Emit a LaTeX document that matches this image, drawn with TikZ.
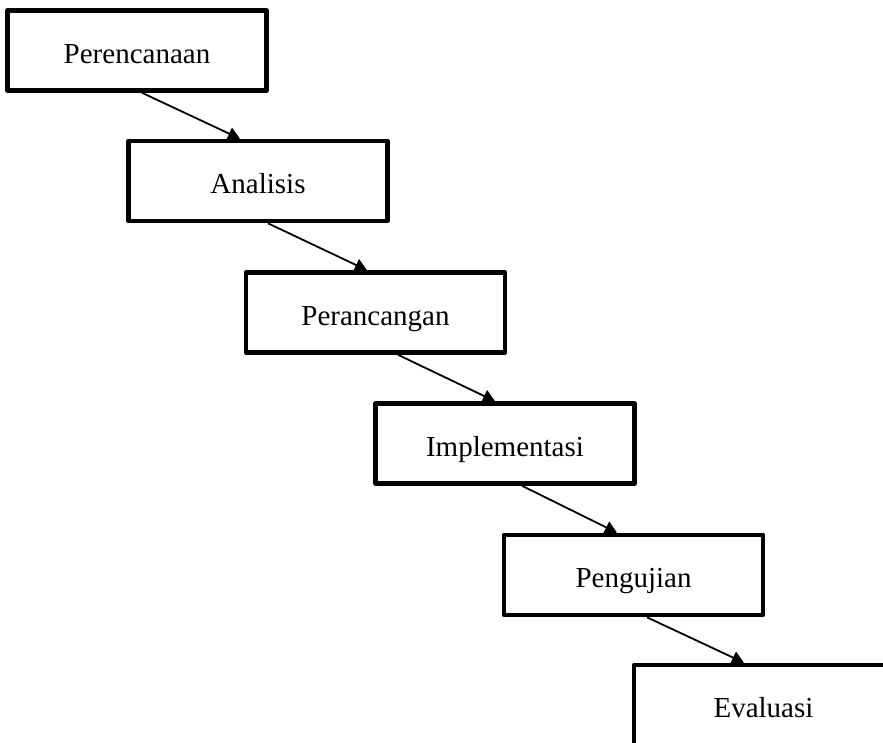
\documentclass[tikz,border=0pt]{standalone}
\usepackage{fontspec}
\setmainfont{Liberation Serif}
\usetikzlibrary{arrows.meta}
\begin{document}
\begin{tikzpicture}[x=1pt,y=-1pt,
  stage/.style={draw, line width=4.6pt, line join=round, minimum width=259pt, minimum height=80pt, inner sep=0pt,
    text height=25pt, text depth=0pt, font=\fontsize{29}{34}\selectfont},
  flow/.style={line width=1.8pt, -{Triangle[length=12pt,width=13pt]}}]
\useasboundingbox (0,0) rectangle (883,742);
\node[stage] (a) at (137,50.5) {Perencanaan};
\node[stage] (b) at (258,181) {Analisis};
\node[stage] (c) at (375.5,312.5) {Perancangan};
\node[stage] (d) at (505,443.5) {Implementasi};
\node[stage] (e) at (633.5,575) {Pengujian};
\node[stage] (f) at (763.5,705) {Evaluasi};
\draw[flow] ([xshift=5pt]a.south) -- ([xshift=-18pt]b.north);
\draw[flow] ([xshift=10pt]b.south) -- ([xshift=-8.5pt]c.north);
\draw[flow] ([xshift=22.5pt]c.south) -- ([xshift=-10pt]d.north);
\draw[flow] ([xshift=17pt]d.south) -- ([xshift=-16.5pt]e.north);
\draw[flow] ([xshift=13.5pt]e.south) -- ([xshift=-19.5pt]f.north);
\end{tikzpicture}
\end{document}
